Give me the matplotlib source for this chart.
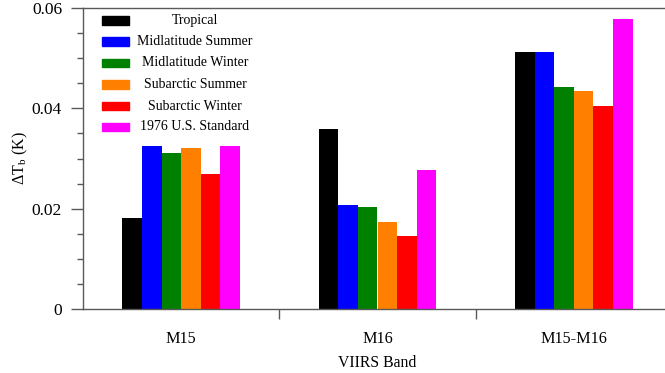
import matplotlib.pyplot as plt
from matplotlib.patches import Rectangle
import numpy as np

plt.rcParams['font.family'] = ['Liberation Serif', 'DejaVu Serif']
plt.rcParams['mathtext.fontset'] = 'custom'
plt.rcParams['mathtext.rm'] = 'Liberation Serif'
plt.rcParams['mathtext.it'] = 'Liberation Serif:italic'

bands = ['M15', 'M16', 'M15-M16']
series = ['Tropical', 'Midlatitude Summer', 'Midlatitude Winter',
          'Subarctic Summer', 'Subarctic Winter', '1976 U.S. Standard']
colors = ['black', 'blue', 'green', '#ff8000', 'red', 'magenta']

tropical = [0.0181, 0.0358, 0.0513]
mid_summer = [0.0325, 0.0208, 0.0513]
mid_winter = [0.0310, 0.0203, 0.0442]
sub_summer = [0.0320, 0.0173, 0.0435]
sub_winter = [0.0270, 0.0145, 0.0405]
us_std = [0.0325, 0.0278, 0.0579]
values = [tropical, mid_summer, mid_winter, sub_summer, sub_winter, us_std]

fig = plt.figure(figsize=(6.65, 3.73), dpi=100)
ax = fig.add_axes([83 / 665, 1 - 309 / 373, 589 / 665, 301 / 373])

x = np.arange(len(bands))
width = 0.1
for i, (vals, c) in enumerate(zip(values, colors)):
    ax.bar(x + (i - 2.5) * width, vals, width, color=c, edgecolor='none')

ax.set_xlim(-0.5, 2.5)
ax.set_ylim(0, 0.06)

line_col = '0.35'
for s in ['left', 'bottom', 'top']:
    ax.spines[s].set_color(line_col)
    ax.spines[s].set_linewidth(1.0)
ax.spines['right'].set_visible(False)

# y axis
ax.set_yticks([0, 0.02, 0.04, 0.06])
ax.set_yticklabels(['0', '0.02', '0.04', '0.06'])
ax.set_yticks(np.arange(0, 0.0601, 0.005), minor=True)
ax.tick_params(axis='y', which='major', direction='out', length=8.6, width=1,
               color=line_col, labelsize=12.5, pad=6.5)
ax.tick_params(axis='y', which='minor', direction='out', length=4.3, width=1,
               color=line_col)
ax.set_ylabel(r'$\Delta\mathrm{T}_\mathrm{b}$ (K)', fontsize=11.5, labelpad=1.5)

# x axis: separators as major ticks, band names as minor ticks
ax.set_xticks([0.5, 1.5])
ax.set_xticklabels([])
ax.set_xticks(x, minor=True)
ax.set_xticklabels(bands, minor=True)
ax.tick_params(axis='x', which='major', direction='out', length=7.5, width=1,
               color=line_col)
ax.tick_params(axis='x', which='minor', length=0, labelsize=11.6, pad=16)
ax.set_xlabel('VIIRS Band', fontsize=11.3, labelpad=5.5)

# legend drawn by hand so the labels are centred
row_y = [20.5, 41.7, 63, 84.3, 106, 127]
for name, c, ry in zip(series, colors, row_y):
    yc = (309 - ry) / 301
    ax.add_patch(Rectangle((0.0326, yc - 4.2 / 301), 0.0462, 8.4 / 301,
                           transform=ax.transAxes, color=c, clip_on=False))
    ax.text(0.19, yc, name, transform=ax.transAxes, ha='center', va='center',
            fontsize=10)

fig.savefig('out.png', dpi=100)
plt.close()
